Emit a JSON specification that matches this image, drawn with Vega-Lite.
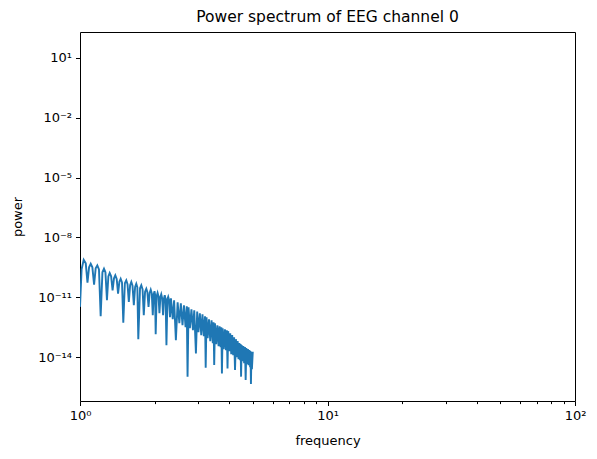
{
  "$schema": "https://vega.github.io/schema/vega-lite/v6.json",
  "width": 495,
  "height": 369,
  "autosize": "none",
  "padding": {"left": 80, "top": 32, "right": 22, "bottom": 58},
  "title": {
    "text": "Power spectrum of EEG channel 0",
    "font": "DejaVu Sans",
    "fontSize": 15.5,
    "fontWeight": "normal",
    "color": "#000000",
    "anchor": "middle",
    "offset": 7
  },
  "config": {
    "view": {"stroke": "#000000", "strokeWidth": 1},
    "axis": {
      "domain": false,
      "grid": false,
      "tickColor": "#000000",
      "tickWidth": 1,
      "labelFont": "DejaVu Sans",
      "labelFontSize": 13,
      "labelColor": "#000000",
      "titleFont": "DejaVu Sans",
      "titleFontSize": 13,
      "titleFontWeight": "normal",
      "titleColor": "#000000"
    }
  },
  "data": {
    "values": [
      {"frequency": 1.000, "power": 3.31e-12},
      {"frequency": 1.015, "power": 2.51e-10},
      {"frequency": 1.035, "power": 7.59e-10},
      {"frequency": 1.055, "power": 5.01e-10},
      {"frequency": 1.072, "power": 5.37e-11},
      {"frequency": 1.088, "power": 3.16e-10},
      {"frequency": 1.105, "power": 4.79e-10},
      {"frequency": 1.122, "power": 3.16e-10},
      {"frequency": 1.140, "power": 4.27e-11},
      {"frequency": 1.157, "power": 2.82e-10},
      {"frequency": 1.175, "power": 3.98e-10},
      {"frequency": 1.193, "power": 2.51e-10},
      {"frequency": 1.212, "power": 1.12e-12},
      {"frequency": 1.232, "power": 1.78e-10},
      {"frequency": 1.250, "power": 2.69e-10},
      {"frequency": 1.267, "power": 1.78e-10},
      {"frequency": 1.285, "power": 7.08e-12},
      {"frequency": 1.302, "power": 1.12e-10},
      {"frequency": 1.318, "power": 1.66e-10},
      {"frequency": 1.336, "power": 1.12e-10},
      {"frequency": 1.354, "power": 2.24e-11},
      {"frequency": 1.372, "power": 8.91e-11},
      {"frequency": 1.389, "power": 1.26e-10},
      {"frequency": 1.407, "power": 8.32e-11},
      {"frequency": 1.425, "power": 1.51e-11},
      {"frequency": 1.443, "power": 6.03e-11},
      {"frequency": 1.460, "power": 8.51e-11},
      {"frequency": 1.478, "power": 5.62e-11},
      {"frequency": 1.496, "power": 5.25e-13},
      {"frequency": 1.518, "power": 5.01e-11},
      {"frequency": 1.538, "power": 7.08e-11},
      {"frequency": 1.556, "power": 4.47e-11},
      {"frequency": 1.575, "power": 5.89e-12},
      {"frequency": 1.594, "power": 3.98e-11},
      {"frequency": 1.612, "power": 5.89e-11},
      {"frequency": 1.630, "power": 3.80e-11},
      {"frequency": 1.650, "power": 3.98e-12},
      {"frequency": 1.670, "power": 3.31e-11},
      {"frequency": 1.688, "power": 4.79e-11},
      {"frequency": 1.705, "power": 3.16e-11},
      {"frequency": 1.720, "power": 7.94e-14},
      {"frequency": 1.748, "power": 2.82e-11},
      {"frequency": 1.769, "power": 3.98e-11},
      {"frequency": 1.790, "power": 2.51e-11},
      {"frequency": 1.810, "power": 1.26e-12},
      {"frequency": 1.832, "power": 1.91e-11},
      {"frequency": 1.853, "power": 2.69e-11},
      {"frequency": 1.872, "power": 1.78e-11},
      {"frequency": 1.892, "power": 3.31e-12},
      {"frequency": 1.912, "power": 1.66e-11},
      {"frequency": 1.931, "power": 2.40e-11},
      {"frequency": 1.950, "power": 1.58e-11},
      {"frequency": 1.968, "power": 1.26e-12},
      {"frequency": 1.985, "power": 1.41e-11},
      {"frequency": 2.000, "power": 2.00e-11},
      {"frequency": 2.010, "power": 1.41e-11},
      {"frequency": 2.022, "power": 1.41e-13},
      {"frequency": 2.040, "power": 1.12e-11},
      {"frequency": 2.058, "power": 1.66e-11},
      {"frequency": 2.076, "power": 1.12e-11},
      {"frequency": 2.094, "power": 1.58e-12},
      {"frequency": 2.112, "power": 1.00e-11},
      {"frequency": 2.130, "power": 1.41e-11},
      {"frequency": 2.148, "power": 8.91e-12},
      {"frequency": 2.166, "power": 1.26e-12},
      {"frequency": 2.185, "power": 8.91e-12},
      {"frequency": 2.200, "power": 1.26e-11},
      {"frequency": 2.218, "power": 7.94e-12},
      {"frequency": 2.235, "power": 3.98e-14},
      {"frequency": 2.255, "power": 7.94e-12},
      {"frequency": 2.272, "power": 1.05e-11},
      {"frequency": 2.290, "power": 7.08e-12},
      {"frequency": 2.310, "power": 1.00e-12},
      {"frequency": 2.330, "power": 8.91e-12},
      {"frequency": 2.370, "power": 7.94e-13},
      {"frequency": 2.400, "power": 7.08e-12},
      {"frequency": 2.440, "power": 7.08e-14},
      {"frequency": 2.480, "power": 5.62e-12},
      {"frequency": 2.520, "power": 5.01e-13},
      {"frequency": 2.555, "power": 5.01e-12},
      {"frequency": 2.595, "power": 3.98e-13},
      {"frequency": 2.630, "power": 3.98e-12},
      {"frequency": 2.670, "power": 3.16e-13},
      {"frequency": 2.700, "power": 3.55e-12},
      {"frequency": 2.720, "power": 1.05e-15},
      {"frequency": 2.745, "power": 3.16e-12},
      {"frequency": 2.780, "power": 2.82e-13},
      {"frequency": 2.820, "power": 2.51e-12},
      {"frequency": 2.860, "power": 2.24e-13},
      {"frequency": 2.895, "power": 2.24e-12},
      {"frequency": 2.940, "power": 1.51e-14},
      {"frequency": 2.975, "power": 1.91e-12},
      {"frequency": 3.010, "power": 1.78e-13},
      {"frequency": 3.050, "power": 1.58e-12},
      {"frequency": 3.090, "power": 1.26e-13},
      {"frequency": 3.125, "power": 1.41e-12},
      {"frequency": 3.165, "power": 1.12e-13},
      {"frequency": 3.200, "power": 1.12e-12},
      {"frequency": 3.220, "power": 2.95e-15},
      {"frequency": 3.245, "power": 1.00e-12},
      {"frequency": 3.280, "power": 8.91e-14},
      {"frequency": 3.320, "power": 7.94e-13},
      {"frequency": 3.360, "power": 6.31e-14},
      {"frequency": 3.400, "power": 7.08e-13},
      {"frequency": 3.440, "power": 5.01e-14},
      {"frequency": 3.465, "power": 5.62e-13},
      {"frequency": 3.485, "power": 3.98e-15},
      {"frequency": 3.510, "power": 5.01e-13},
      {"frequency": 3.550, "power": 4.47e-14},
      {"frequency": 3.590, "power": 3.98e-13},
      {"frequency": 3.630, "power": 3.55e-14},
      {"frequency": 3.665, "power": 3.55e-13},
      {"frequency": 3.700, "power": 3.16e-14},
      {"frequency": 3.725, "power": 3.16e-13},
      {"frequency": 3.745, "power": 1.51e-15},
      {"frequency": 3.770, "power": 2.82e-13},
      {"frequency": 3.810, "power": 2.51e-14},
      {"frequency": 3.850, "power": 2.51e-13},
      {"frequency": 3.890, "power": 2.24e-14},
      {"frequency": 3.920, "power": 2.24e-13},
      {"frequency": 3.945, "power": 2.69e-15},
      {"frequency": 3.970, "power": 2.00e-13},
      {"frequency": 4.010, "power": 2.00e-14},
      {"frequency": 4.045, "power": 1.58e-13},
      {"frequency": 4.085, "power": 1.41e-14},
      {"frequency": 4.120, "power": 1.26e-13},
      {"frequency": 4.160, "power": 1.26e-14},
      {"frequency": 4.195, "power": 1.00e-13},
      {"frequency": 4.230, "power": 2.24e-15},
      {"frequency": 4.265, "power": 7.94e-14},
      {"frequency": 4.300, "power": 1.00e-14},
      {"frequency": 4.335, "power": 6.31e-14},
      {"frequency": 4.370, "power": 7.94e-15},
      {"frequency": 4.405, "power": 5.01e-14},
      {"frequency": 4.435, "power": 7.08e-15},
      {"frequency": 4.455, "power": 4.47e-14},
      {"frequency": 4.475, "power": 1.05e-15},
      {"frequency": 4.500, "power": 3.98e-14},
      {"frequency": 4.535, "power": 6.31e-15},
      {"frequency": 4.570, "power": 3.55e-14},
      {"frequency": 4.605, "power": 5.01e-15},
      {"frequency": 4.640, "power": 3.16e-14},
      {"frequency": 4.670, "power": 7.08e-16},
      {"frequency": 4.700, "power": 2.82e-14},
      {"frequency": 4.735, "power": 4.47e-15},
      {"frequency": 4.770, "power": 2.51e-14},
      {"frequency": 4.800, "power": 3.98e-15},
      {"frequency": 4.835, "power": 2.24e-14},
      {"frequency": 4.870, "power": 3.16e-15},
      {"frequency": 4.885, "power": 2.00e-14},
      {"frequency": 4.905, "power": 4.47e-16},
      {"frequency": 4.930, "power": 1.78e-14},
      {"frequency": 4.950, "power": 2.51e-15},
      {"frequency": 4.990, "power": 1.86e-14}
    ]
  },
  "mark": {"type": "line", "color": "#1f77b4", "strokeWidth": 1.9, "clip": true},
  "encoding": {
    "x": {
      "field": "frequency",
      "type": "quantitative",
      "title": "frequency",
      "scale": {"type": "log", "domain": [1, 100], "nice": false},
      "axis": {
        "values": [1, 2, 3, 4, 5, 6, 7, 8, 9, 10, 20, 30, 40, 50, 60, 70, 80, 90, 100],
        "labelExpr": "datum.value == 1 ? '10⁰' : datum.value == 10 ? '10¹' : datum.value == 100 ? '10²' : ''",
        "tickSize": {"condition": {"test": "datum.value == 1 || datum.value == 10 || datum.value == 100", "value": 4.5}, "value": 2.6},
        "labelPadding": 4,
        "labelFlush": false,
        "labelOverlap": false,
        "titlePadding": 12
      }
    },
    "y": {
      "field": "power",
      "type": "quantitative",
      "title": "power",
      "scale": {"type": "log", "domain": [6.3e-17, 199.5], "nice": false},
      "axis": {
        "values": [10, 0.01, 1e-5, 1e-8, 1e-11, 1e-14],
        "labelExpr": "datum.value > 1 ? '10¹' : datum.value > 1e-3 ? '10⁻²' : datum.value > 1e-6 ? '10⁻⁵' : datum.value > 1e-9 ? '10⁻⁸' : datum.value > 1e-12 ? '10⁻¹¹' : '10⁻¹⁴'",
        "tickSize": 4.5,
        "labelPadding": 4,
        "labelFlush": false,
        "labelOverlap": false,
        "titlePadding": 13
      }
    }
  }
}
